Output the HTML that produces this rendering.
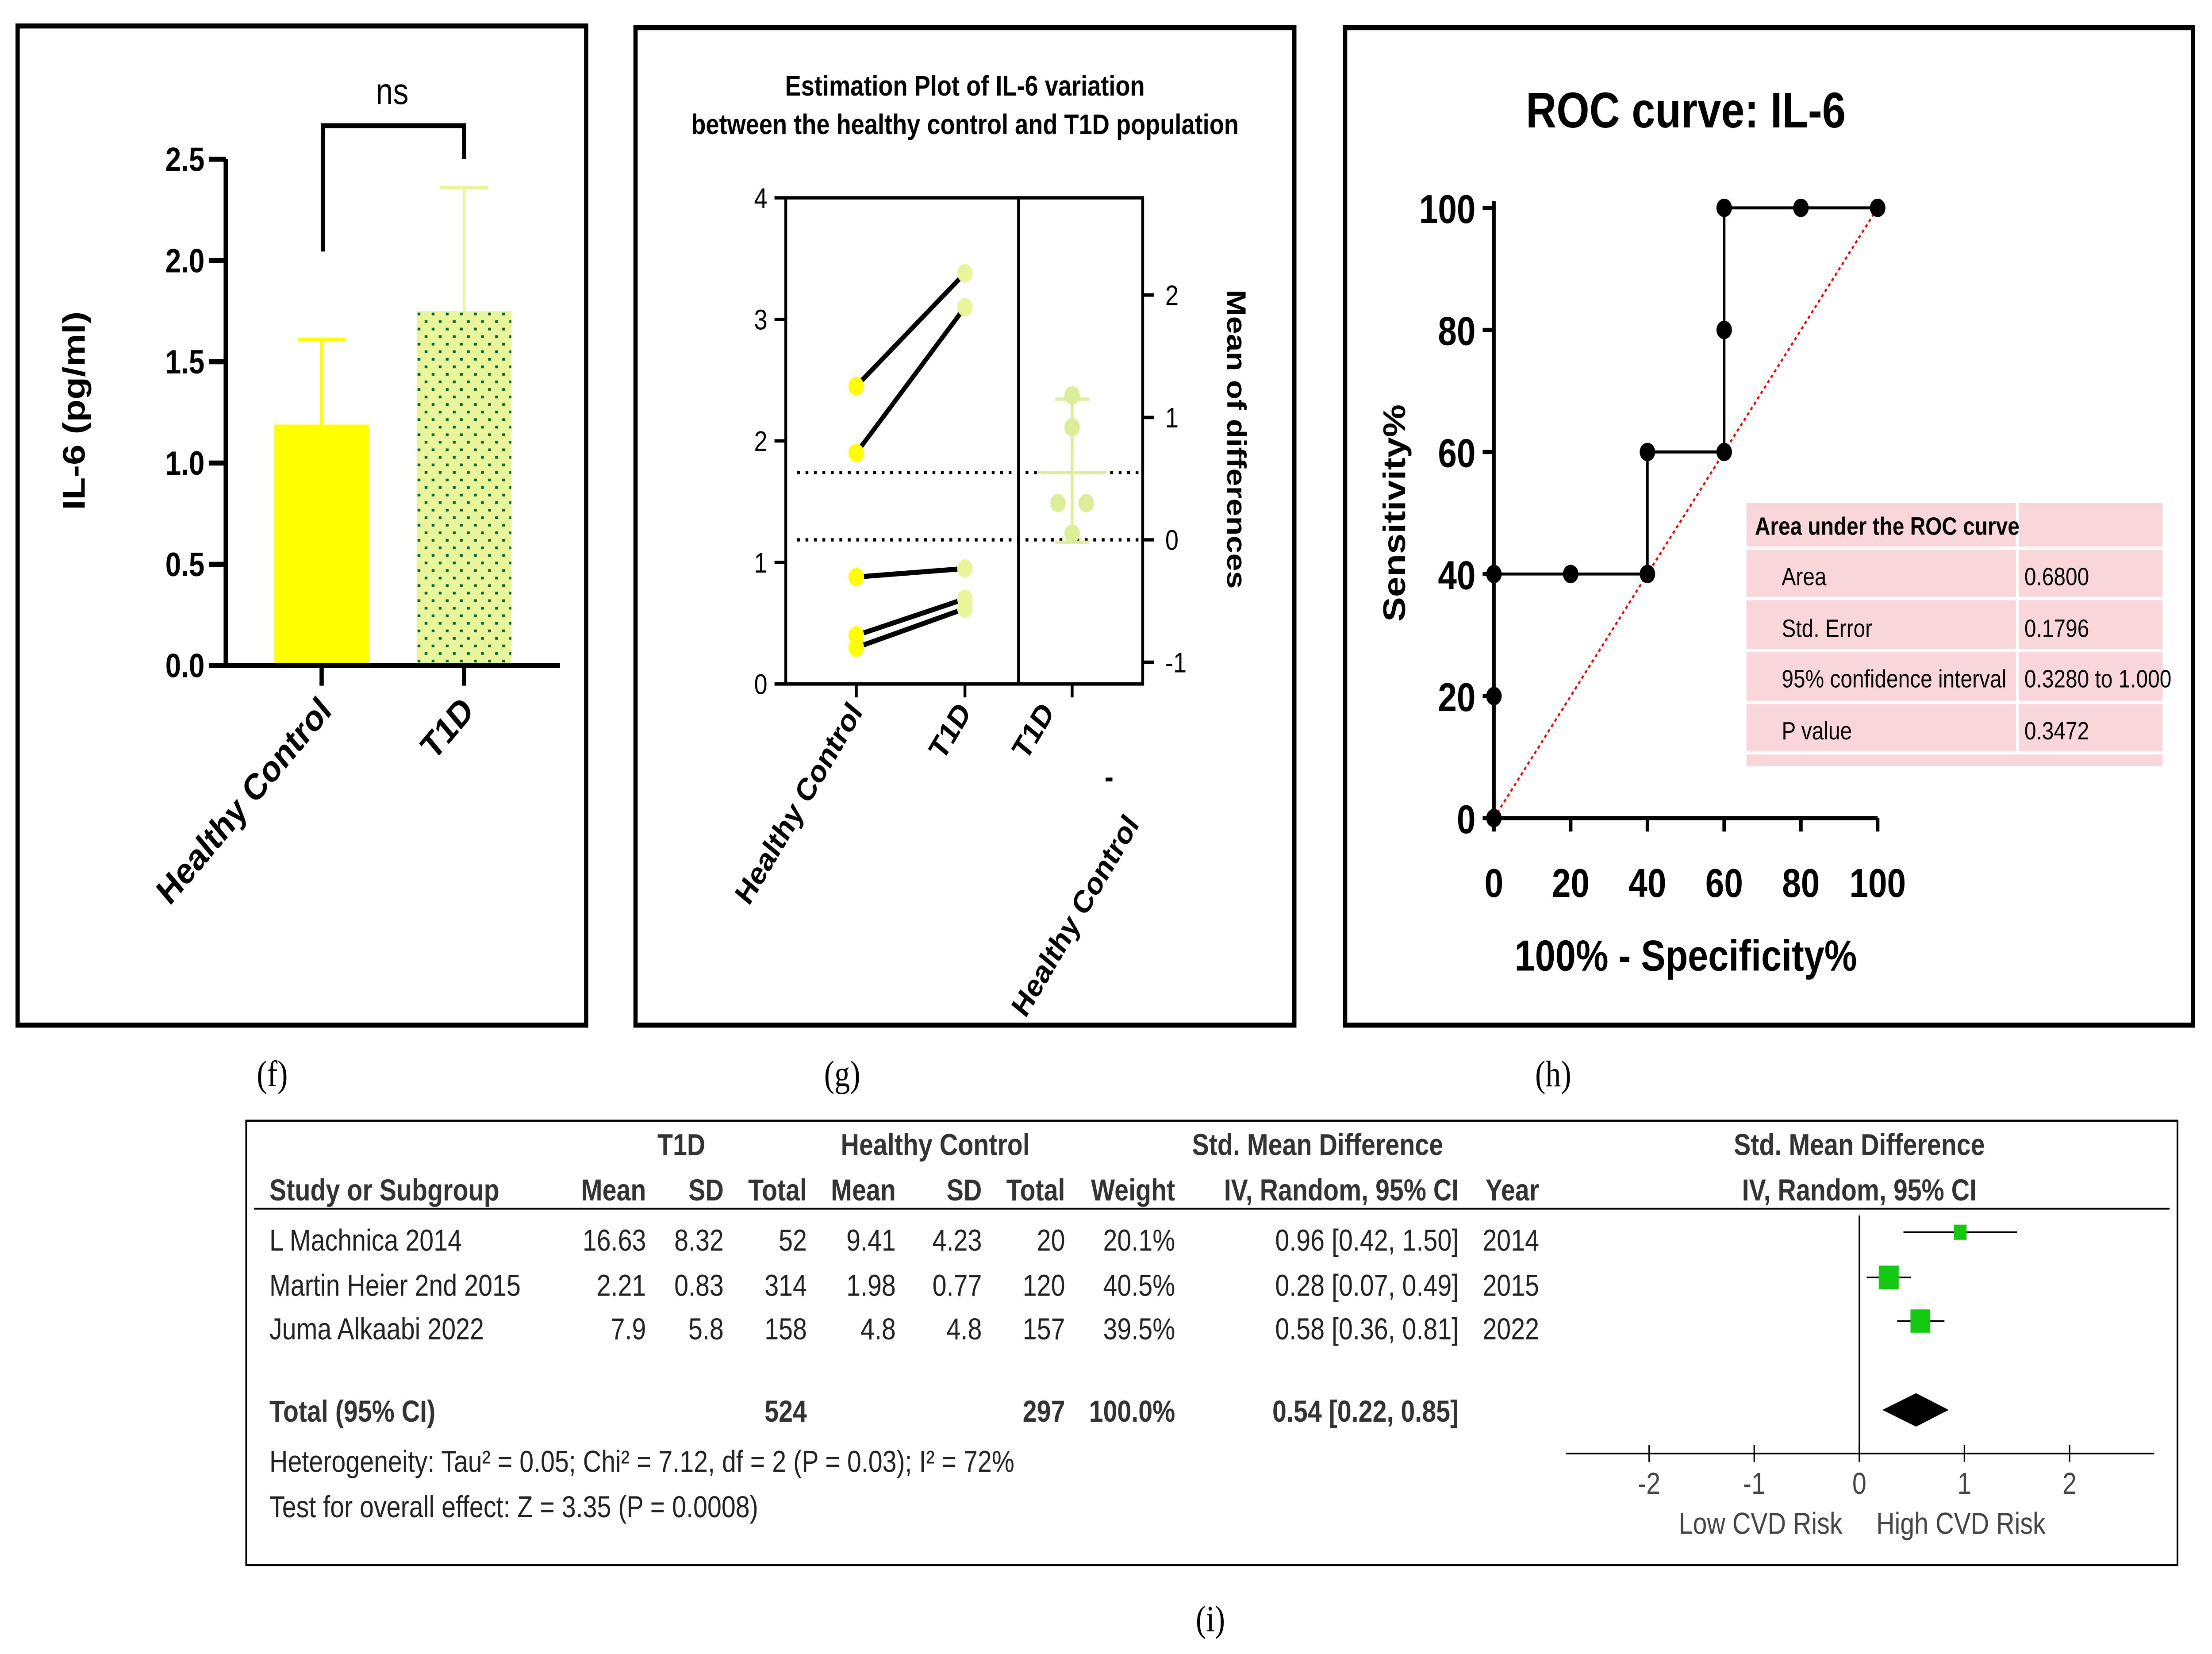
<!DOCTYPE html>
<html><head><meta charset="utf-8"><style>
html,body{margin:0;padding:0;background:#fff;overflow:hidden;width:100vw;height:100vh}
svg{display:block;position:fixed;left:0;top:0;width:100vw;height:100vh}
text{font-family:"Liberation Sans",sans-serif}
.n{font-family:"Liberation Sans Narrow","Liberation Sans",sans-serif}
.s{font-family:"Liberation Serif",serif}
</style></head><body>
<svg id="c" viewBox="0 0 1568 986.6" preserveAspectRatio="none" xmlns="http://www.w3.org/2000/svg">
<defs>
<pattern id="dots" width="10" height="9" patternUnits="userSpaceOnUse">
<rect width="10" height="9" fill="#e9f59b"/>
<rect x="1" y="2" width="2" height="1.6" fill="#056638"/>
<rect x="6" y="6.5" width="2" height="1.6" fill="#056638"/>
</pattern>
</defs>

<g>
<rect x="12.5" y="15.5" width="403" height="596" fill="none" stroke="#000" stroke-width="3"/>
<g id="fAxes"></g>
<text x="60" y="245" font-weight="bold" font-size="22" text-anchor="middle" transform="rotate(-90 60 245)">IL-6 (pg/ml)</text>
<text x="278" y="62" font-size="22" text-anchor="middle">ns</text>
<path d="M229 150 V75 H329 V95" fill="none" stroke="#000" stroke-width="3"/>
</g>
<text x="193" y="648" class="s" font-size="22" text-anchor="middle">(f)</text>

<g>
<rect x="450.5" y="16.5" width="467" height="595" fill="none" stroke="#000" stroke-width="3"/>
<text x="684" y="57" font-weight="bold" font-size="17" text-anchor="middle">Estimation Plot of IL-6 variation</text>
<text x="684" y="80" font-weight="bold" font-size="17" text-anchor="middle">between the healthy control and T1D population</text>
<g id="gPlot"></g>
<text x="870" y="262" font-weight="bold" font-size="19" text-anchor="middle" transform="rotate(90 870 262)">Mean of differences</text>
</g>
<text x="597" y="648" class="s" font-size="22" text-anchor="middle">(g)</text>

<g>
<rect x="953.5" y="16.5" width="601" height="595" fill="none" stroke="#000" stroke-width="3"/>
<text x="1195" y="76" class="n" font-weight="bold" font-size="30" text-anchor="middle">ROC curve: IL-6</text>
<g id="hPlot"></g>
<text x="996" y="306" font-weight="bold" font-size="22" text-anchor="middle" transform="rotate(-90 996 306)">Sensitivity%</text>
<text x="1195" y="579" class="n" font-weight="bold" font-size="26" text-anchor="middle">100% - Specificity%</text>
<g class="n" font-size="15">
<rect x="1238" y="300" width="295" height="157" fill="#f9d6da"/>
<g stroke="#fff" stroke-width="2">
<line x1="1238" y1="327" x2="1533" y2="327"/><line x1="1238" y1="357" x2="1533" y2="357"/>
<line x1="1238" y1="388" x2="1533" y2="388"/><line x1="1238" y1="419" x2="1533" y2="419"/>
<line x1="1238" y1="449" x2="1533" y2="449"/><line x1="1430" y1="300" x2="1430" y2="449"/>
</g>
<text x="1244" y="319" font-weight="bold">Area under the ROC curve</text>
<text x="1263" y="349">Area</text><text x="1435" y="349">0.6800</text>
<text x="1263" y="380">Std. Error</text><text x="1435" y="380">0.1796</text>
<text x="1263" y="410">95% confidence interval</text><text x="1435" y="410">0.3280 to 1.000</text>
<text x="1263" y="441">P value</text><text x="1435" y="441">0.3472</text>
</g>
</g>
<text x="1101" y="648" class="s" font-size="22" text-anchor="middle">(h)</text>

<g class="n" font-size="18" fill="#222">
<rect x="174.5" y="668.5" width="1369" height="265" fill="none" stroke="#000" stroke-width="1.2"/>
<line x1="180" y1="721" x2="1538" y2="721" stroke="#000" stroke-width="1"/>
<g fill="#333" font-weight="bold">
<text x="483" y="689" text-anchor="middle">T1D</text>
<text x="663" y="689" text-anchor="middle">Healthy Control</text>
<text x="934" y="689" text-anchor="middle">Std. Mean Difference</text>
<text x="1318" y="689" text-anchor="middle">Std. Mean Difference</text>
<text x="191" y="716">Study or Subgroup</text>
<text x="458" y="716" text-anchor="end">Mean</text>
<text x="513" y="716" text-anchor="end">SD</text>
<text x="572" y="716" text-anchor="end">Total</text>
<text x="635" y="716" text-anchor="end">Mean</text>
<text x="696" y="716" text-anchor="end">SD</text>
<text x="755" y="716" text-anchor="end">Total</text>
<text x="833" y="716" text-anchor="end">Weight</text>
<text x="1034" y="716" text-anchor="end">IV, Random, 95% CI</text>
<text x="1053" y="716">Year</text>
<text x="1318" y="716" text-anchor="middle">IV, Random, 95% CI</text>
</g>
<g id="rows"></g>
<g font-weight="bold" fill="#333">
<text x="191" y="848">Total (95% CI)</text>
<text x="572" y="848" text-anchor="end">524</text>
<text x="755" y="848" text-anchor="end">297</text>
<text x="833" y="848" text-anchor="end">100.0%</text>
<text x="1034" y="848" text-anchor="end">0.54 [0.22, 0.85]</text>
</g>
<text x="191" y="878">Heterogeneity: Tau² = 0.05; Chi² = 7.12, df = 2 (P = 0.03); I² = 72%</text>
<text x="191" y="905">Test for overall effect: Z = 3.35 (P = 0.0008)</text>
<g id="forest"></g>
<text x="1248" y="915" text-anchor="middle" fill="#444">Low CVD Risk</text>
<text x="1390" y="915" text-anchor="middle" fill="#444">High CVD Risk</text>
</g>
<text x="858" y="973" class="s" font-size="22" text-anchor="middle">(i)</text>
</svg>
<script>
const NS="http://www.w3.org/2000/svg";
function mk(p,t,a,txt){const e=document.createElementNS(NS,t);for(const k in a)e.setAttribute(k,a[k]);if(txt!==undefined)e.textContent=txt;p.appendChild(e);return e;}

const fCats=["Healthy Control","T1D"];
const fMeans=[1.19,1.75];
const fErrTop=[1.61,2.36];
const fTicks=[0,0.5,1,1.5,2,2.5];
const gTicksL=[0,1,2,3,4];
const gTicksR=[-1,0,1,2];
const gHC=[2.45,1.9,0.88,0.4,0.3];
const gT1D=[3.38,3.1,0.95,0.7,0.62];
const gDiff=[1.18,0.92,0.3,0.3,0.05];
const gDiffMean=0.55, gDiffLo=-0.02, gDiffHi=1.15;
const rocX=[0,0,0,20,40,40,60,60,60,80,100];
const rocY=[0,20,40,40,40,60,60,80,100,100,100];
const hTicks=[0,20,40,60,80,100];
const studies=["L Machnica 2014","Martin Heier 2nd 2015","Juma Alkaabi 2022"];
const t1dMean=["16.63","2.21","7.9"],t1dSD=["8.32","0.83","5.8"],t1dN=["52","314","158"];
const hcMean=["9.41","1.98","4.8"],hcSD=["4.23","0.77","4.8"],hcN=["20","120","157"];
const weights=[20.1,40.5,39.5];
const smd=[0.96,0.28,0.58],smdLo=[0.42,0.07,0.36],smdHi=[1.50,0.49,0.81];
const years=["2014","2015","2022"];
const totSmd=0.54,totLo=0.22,totHi=0.85;
const fTickLabels=["-2","-1","0","1","2"];

(function(){
const g=document.getElementById('fAxes');
const y=v=>397-v*120.8, xc=[228,329], bw=67;
fCats.forEach((c,i)=>{
 const col=i==0?"#ffff00":"url(#dots)", ec=i==0?"#ffff00":"#e9f59b";
 let e=mk(g,'line',{x1:xc[i],x2:xc[i],y1:y(fMeans[i]),y2:y(fErrTop[i]),stroke:ec,'stroke-width':2});
 
 e=mk(g,'line',{x1:xc[i]-17,x2:xc[i]+17,y1:y(fErrTop[i]),y2:y(fErrTop[i]),stroke:ec,'stroke-width':2});
 
 e=mk(g,'rect',{x:xc[i]-bw/2,y:y(fMeans[i]),width:bw,height:397-y(fMeans[i]),fill:col});
 
 mk(g,'line',{x1:xc[i],x2:xc[i],y1:397,y2:409,stroke:'#000','stroke-width':3});
 const t=mk(g,'text',{x:xc[i]+8,y:425,'font-size':22,'font-weight':'bold','text-anchor':'end',transform:`rotate(-45 ${xc[i]+8} 425)`},c);
 
});
mk(g,'path',{d:'M160 95 V397 H397',fill:'none',stroke:'#000','stroke-width':3});
fTicks.forEach(v=>{
 mk(g,'line',{x1:148,x2:160,y1:y(v),y2:y(v),stroke:'#000','stroke-width':3});
 const t=mk(g,'text',{x:145,y:y(v)+7,'font-size':20,'font-weight':'bold','text-anchor':'end'},v.toFixed(1));
 
});
})();

(function(){
const g=document.getElementById('gPlot');
const yL=v=>408-v*72.5, yR=v=>322-v*73;
[yR(gDiffMean),yR(0)].forEach(yy=>{const e=mk(g,'line',{x1:565,x2:810,y1:yy,y2:yy,stroke:'#000','stroke-width':2,'stroke-dasharray':'2 4'});
 });
mk(g,'rect',{x:557,y:118,width:253,height:290,fill:'none',stroke:'#000','stroke-width':2});
mk(g,'line',{x1:722,x2:722,y1:118,y2:408,stroke:'#000','stroke-width':2});
gTicksL.forEach(v=>{mk(g,'line',{x1:549,x2:557,y1:yL(v),y2:yL(v),stroke:'#000','stroke-width':2});
 const t=mk(g,'text',{x:544,y:yL(v)+6,'font-size':17,'text-anchor':'end'},v);});
gTicksR.forEach(v=>{mk(g,'line',{x1:810,x2:818,y1:yR(v),y2:yR(v),stroke:'#000','stroke-width':2});
 const t=mk(g,'text',{x:826,y:yR(v)+6,'font-size':17},v);});
[607,684,760].forEach(x=>mk(g,'line',{x1:x,x2:x,y1:408,y2:416,stroke:'#000','stroke-width':2}));
gHC.forEach((v,i)=>{
 let e=mk(g,'line',{x1:607,y1:yL(v),x2:684,y2:yL(gT1D[i]),stroke:'#000','stroke-width':3});
 
 e=mk(g,'circle',{cx:607,cy:yL(v),r:5.5,fill:'#ffff00'});
 e=mk(g,'circle',{cx:684,cy:yL(gT1D[i]),r:5.5,fill:'#e9f59b'});
});
const off=[0,0,-10,10,0];
gDiff.forEach((v,i)=>{const e=mk(g,'circle',{cx:760+off[i],cy:yR(v),r:5.5,fill:'#dcee9a'});
 });
let e=mk(g,'path',{d:`M760 ${yR(gDiffLo)} V${yR(gDiffHi)} M748 ${yR(gDiffHi)} H772 M748 ${yR(gDiffLo)} H772 M736 ${yR(gDiffMean)} H784`,stroke:'#dcee9a','stroke-width':2,fill:'none'});

[["Healthy Control",612],["T1D",689],["T1D",748]].forEach(([s,x])=>{
 const t=mk(g,'text',{x:x,y:425,'font-size':19,'font-weight':'bold','text-anchor':'end',transform:`rotate(-55 ${x} 425)`},s);
 });
let t=mk(g,'text',{x:808,y:492,'font-size':19,'font-weight':'bold','text-anchor':'end',transform:'rotate(-55 808 492)'},"Healthy Control");

t=mk(g,'text',{x:783,y:470,'font-size':19,'font-weight':'bold'},"-");
})();

(function(){
const g=document.getElementById('hPlot');
const x=v=>1059+v*2.72, y=v=>488-v*3.64;
let e=mk(g,'line',{x1:x(0),y1:y(0),x2:x(100),y2:y(100),stroke:'#e00','stroke-width':1.3,'stroke-dasharray':'2 2'});

mk(g,'path',{d:'M1059 120 V488 H1331',fill:'none',stroke:'#000','stroke-width':2.5});
hTicks.forEach(v=>{
 mk(g,'line',{x1:1051,x2:1059,y1:y(v),y2:y(v),stroke:'#000','stroke-width':2.5});
 mk(g,'line',{x1:x(v),x2:x(v),y1:488,y2:496,stroke:'#000','stroke-width':2.5});
 let t=mk(g,'text',{x:1046,y:y(v)+9,'font-size':24,'font-weight':'bold','text-anchor':'end','class':'n'},v);
 
 t=mk(g,'text',{x:x(v),y:535,'font-size':24,'font-weight':'bold','text-anchor':'middle','class':'n'},v);
 
});
e=mk(g,'polyline',{points:rocX.map((v,i)=>x(v)+','+y(rocY[i])).join(' '),fill:'none',stroke:'#000','stroke-width':1.8});

rocX.forEach((v,i)=>{const c=mk(g,'circle',{cx:x(v),cy:y(rocY[i]),r:5.5,fill:'#000'});
 });
})();

(function(){
const g=document.getElementById('rows');
const rowY=[746,773,799];
const fx=v=>1318+v*74.5;
const f=document.getElementById('forest');
studies.forEach((s,i)=>{
 const yy=rowY[i];
 const cells=[[s,191,'start'],[t1dMean[i],458,'end'],[t1dSD[i],513,'end'],[t1dN[i],572,'end'],[hcMean[i],635,'end'],[hcSD[i],696,'end'],[hcN[i],755,'end'],[weights[i].toFixed(1)+'%',833,'end'],
  [smd[i].toFixed(2)+' ['+smdLo[i].toFixed(2)+', '+smdHi[i].toFixed(2)+']',1034,'end'],[years[i],1051,'start']];
 cells.forEach(([tx,xx,a])=>{const t=mk(g,'text',{x:xx,y:yy,'text-anchor':a},tx);
  });
 const cy=yy-11;
 let e=mk(f,'line',{x1:fx(smdLo[i]),x2:fx(smdHi[i]),y1:cy,y2:cy,stroke:'#000','stroke-width':1});
 
 const sz=4+weights[i]*0.25;
 e=mk(f,'rect',{x:fx(smd[i])-sz/2,y:cy-sz/2,width:sz,height:sz,fill:'#14c814'});
 
});
let e=mk(f,'line',{x1:fx(0),x2:fx(0),y1:725,y2:867,stroke:'#000','stroke-width':1});

e=mk(f,'polygon',{points:`${fx(totLo)},841 ${fx(totSmd)},831 ${fx(totHi)},841 ${fx(totSmd)},851`,fill:'#000'});

mk(f,'line',{x1:1110,x2:1527,y1:867,y2:867,stroke:'#000','stroke-width':1});
fTickLabels.forEach(s=>{const v=+s;
 mk(f,'line',{x1:fx(v),x2:fx(v),y1:862,y2:872,stroke:'#000','stroke-width':1});
 const t=mk(f,'text',{x:fx(v),y:891,'text-anchor':'middle',fill:'#444'},s);
 });
})();
</script>
</body></html>
